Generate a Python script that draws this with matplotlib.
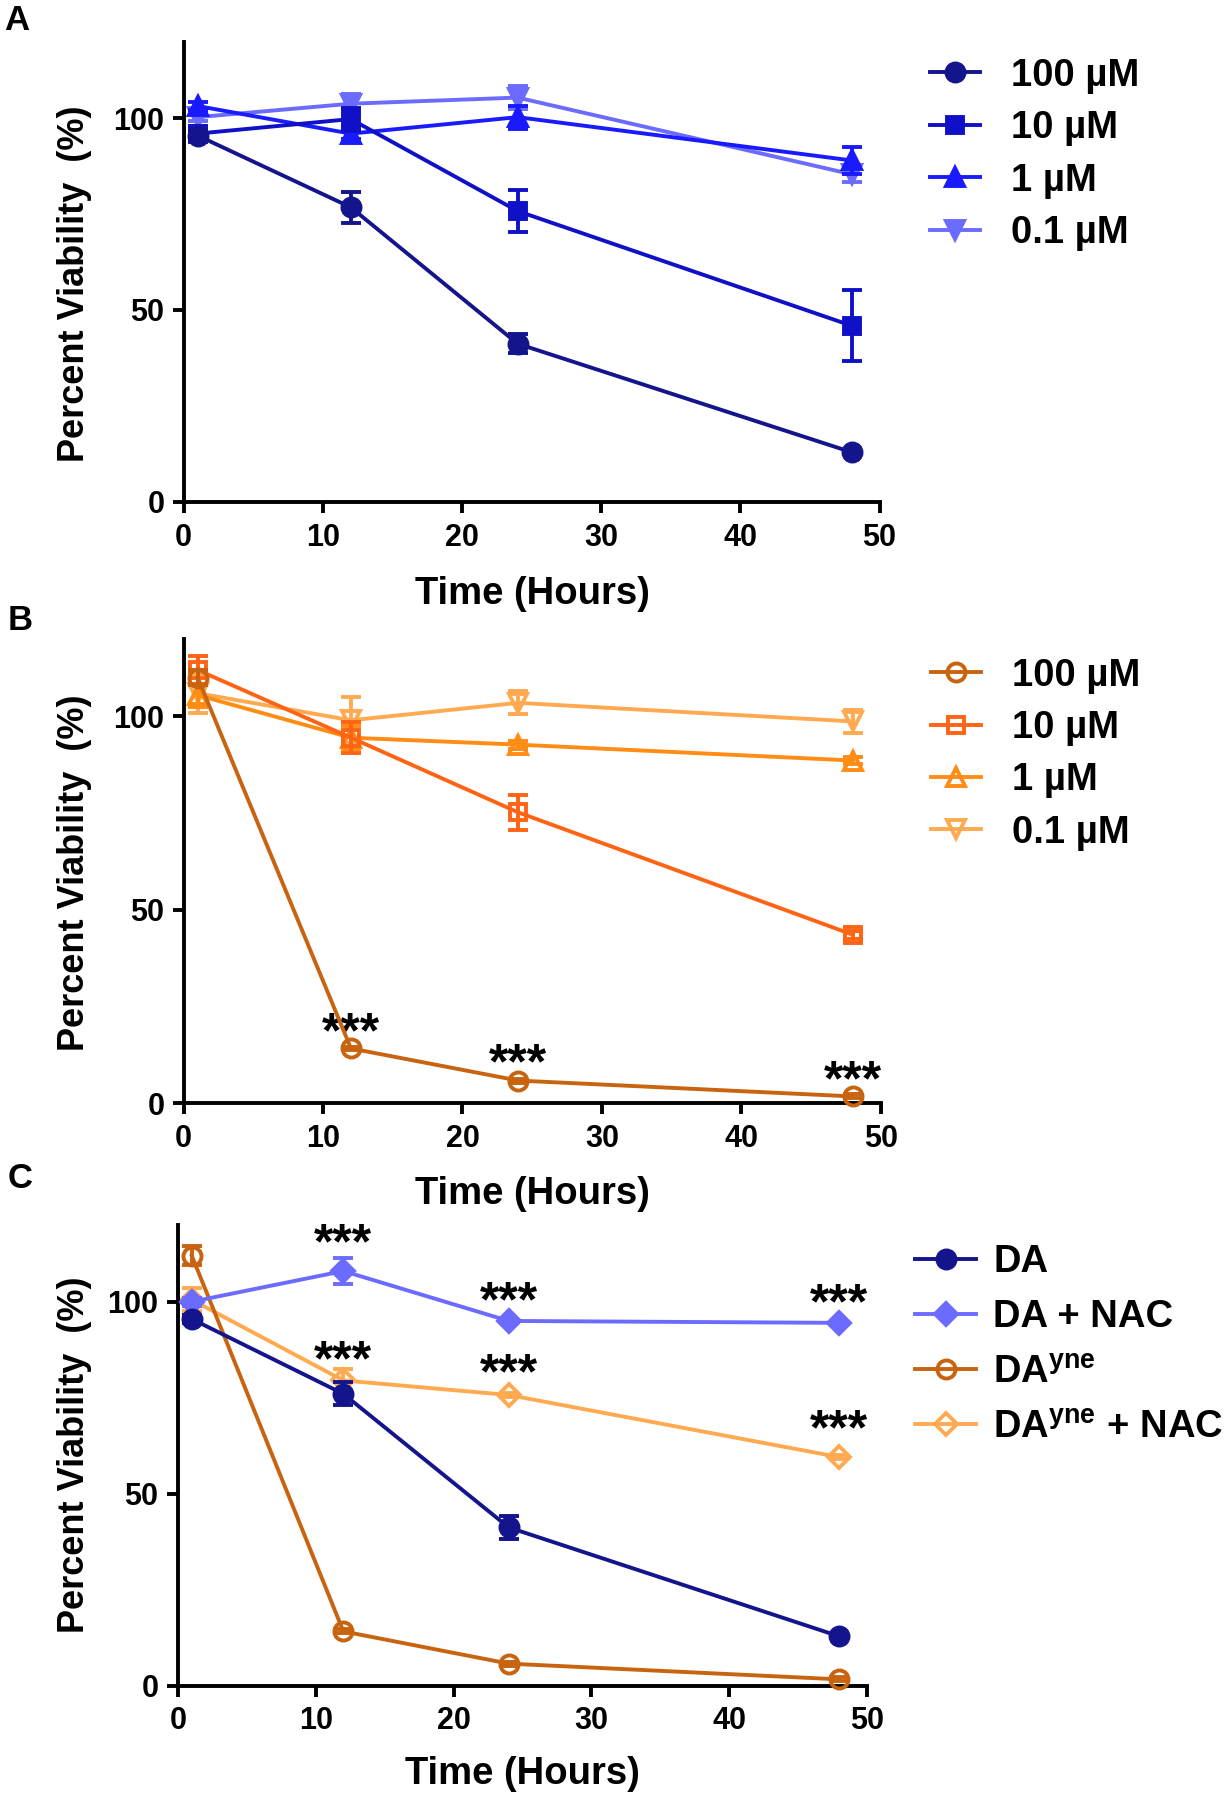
import matplotlib
matplotlib.use('Agg')
import matplotlib.pyplot as plt
from matplotlib.transforms import offset_copy

plt.rcParams['font.family'] = ['Liberation Sans', 'DejaVu Sans']
plt.rcParams['font.weight'] = 'bold'
plt.rcParams['mathtext.fontset'] = 'custom'
plt.rcParams['mathtext.rm'] = 'Liberation Sans:bold'
plt.rcParams['mathtext.default'] = 'rm'

# ---------------- data ----------------
time = [1, 12, 24, 48]

a_labels = ['100 µM', '10 µM', '1 µM', '0.1 µM']
a_100 = [95.5, 76.8, 41.2, 12.9]
a_100_err = [1.5, 4.0, 2.5, 0.5]
a_10 = [96.0, 99.8, 75.8, 45.9]
a_10_err = [2.0, 3.0, 5.5, 9.2]
a_1 = [103.2, 96.0, 100.3, 89.0]
a_1_err = [1.0, 1.5, 3.0, 3.5]
a_01 = [100.3, 103.8, 105.4, 85.4]
a_01_err = [1.0, 2.5, 3.0, 2.0]

b_labels = ['100 µM', '10 µM', '1 µM', '0.1 µM']
b_100 = [110.0, 14.2, 5.9, 1.8]
b_100_err = [2.0, 0.5, 0.5, 0.5]
b_10 = [112.0, 94.5, 75.2, 43.6]
b_10_err = [3.5, 4.0, 4.5, 1.0]
b_1 = [105.5, 94.5, 92.7, 88.6]
b_1_err = [3.0, 3.0, 1.0, 1.0]
b_01 = [106.0, 99.0, 103.5, 98.7]
b_01_err = [5.0, 6.0, 3.0, 3.0]
b_star_x = [12, 24, 48]
b_star_y = [20.8, 12.7, 8.4]

c_labels = ['DA', 'DA + NAC', r'$\mathrm{DA}^{\mathrm{yne}}$', r'$\mathrm{DA}^{\mathrm{yne}}$ + NAC']
c_da = [95.5, 76.0, 41.2, 12.8]
c_da_err = [1.0, 3.0, 3.0, 0.5]
c_danac = [100.0, 108.0, 95.0, 94.5]
c_danac_err = [1.0, 3.5, 0.5, 0.5]
c_dayne = [112.0, 14.1, 5.7, 1.6]
c_dayne_err = [2.5, 0.5, 0.5, 0.5]
c_daynenac = [100.5, 79.5, 75.7, 59.5]
c_daynenac_err = [3.0, 3.0, 0.5, 0.5]
c_star_x = [12, 24, 48, 12, 24, 48]
c_star_y = [117.5, 102.5, 102.0, 87.0, 83.6, 69.0]

# ---------------- styles ----------------
NAVY = '#14148C'
MBLUE = '#1010C8'
BLUE = '#1A1AFF'
LBLUE = '#6B6BFF'
BROWN = '#C8640F'
ORED = '#FF6414'
ORANGE = '#FF8C14'
LORANGE = '#FFAA50'

LW = 2.8

fig = plt.figure(figsize=(12.24, 18), dpi=100)
W, H = 1224.0, 1800.0


def make_ax(left, right, bottom_px, top_px):
    ax = fig.add_axes([left / W, 1 - bottom_px / H, (right - left) / W, (bottom_px - top_px) / H])
    for s in ['top', 'right']:
        ax.spines[s].set_visible(False)
    for s in ['left', 'bottom']:
        ax.spines[s].set_linewidth(LW)
    ax.set_xlim(0, 50)
    ax.set_ylim(0, 120)
    ax.set_xticks([0, 10, 20, 30, 40, 50])
    ax.set_yticks([0, 50, 100])
    ax.tick_params(axis='both', length=8, width=LW, direction='out', labelsize=22)
    ax.tick_params(axis='x', pad=7)
    ax.tick_params(axis='y', pad=6)
    return ax


def series(ax, y, err, color, marker, ms, filled, z):
    c = ax.errorbar(time, y, yerr=err, color=color, marker=marker, ms=ms,
                    mfc=color if filled else 'none', mec=color, mew=LW, lw=LW,
                    elinewidth=LW, capsize=7, capthick=LW,
                    clip_on=False, zorder=z)
    return c[0]


def stars(ax, xs, ys):
    tr = offset_copy(ax.transData, fig=fig, x=0, y=-8, units='points')
    for x, y in zip(xs, ys):
        ax.text(x, y, '***', ha='center', va='center', fontsize=36, fontweight='bold',
                transform=tr)


axA = make_ax(183.7, 879.5, 501.7, 41.6)
hA = [
    series(axA, a_100, a_100_err, NAVY, 'o', 13, True, 5),
    series(axA, a_10, a_10_err, MBLUE, 's', 11.5, True, 4),
    series(axA, a_1, a_1_err, BLUE, '^', 13, True, 3),
    series(axA, a_01, a_01_err, LBLUE, 'v', 13, True, 2),
]

axB = make_ax(183.7, 880.6, 1103.4, 639.0)
hB = [
    series(axB, b_100, b_100_err, BROWN, 'o', 13, False, 5),
    series(axB, b_10, b_10_err, ORED, 's', 12, False, 4),
    series(axB, b_1, b_1_err, ORANGE, '^', 13, False, 3),
    series(axB, b_01, b_01_err, LORANGE, 'v', 13, False, 2),
]
stars(axB, b_star_x, b_star_y)

axC = make_ax(178.0, 866.9, 1685.5, 1225.0)
hC = [
    series(axC, c_da, c_da_err, NAVY, 'o', 13, True, 5),
    series(axC, c_danac, c_danac_err, LBLUE, 'D', 11, True, 4),
    series(axC, c_dayne, c_dayne_err, BROWN, 'o', 13, False, 3),
    series(axC, c_daynenac, c_daynenac_err, LORANGE, 'D', 11, False, 2),
]
stars(axC, c_star_x, c_star_y)

leg_kw = dict(loc='upper left', frameon=False, borderaxespad=0, borderpad=0,
              prop={'size': 27.5, 'weight': 'bold'})
axA.legend(hA, a_labels, bbox_to_anchor=(1.073, 0.965), handlelength=1.3,
           labelspacing=0.43, handletextpad=0.8, **leg_kw)
axB.legend(hB, b_labels, bbox_to_anchor=(1.073, 0.96), handlelength=1.3,
           labelspacing=0.43, handletextpad=0.8, **leg_kw)
axC.legend(hC, c_labels, bbox_to_anchor=(1.07, 0.958), handlelength=1.6,
           labelspacing=0.5, handletextpad=0.45, **leg_kw)

# axis labels
for yc in [284, 873, 1455]:
    fig.text(75 / W, 1 - yc / H, 'Percent Viability  (%)', rotation=90, ha='center', va='center',
             fontsize=26, fontweight='bold')
for (xc, yc) in [(532, 594), (532, 1194), (522, 1774)]:
    fig.text(xc / W, 1 - yc / H, 'Time (Hours)', ha='center', va='center',
             fontsize=27.5, fontweight='bold')

for (t, xc, yc) in [('A', 17, 21), ('B', 20, 620), ('C', 20, 1179)]:
    fig.text(xc / W, 1 - yc / H, t, ha='center', va='center', fontsize=25, fontweight='bold')

fig.savefig('out.png', dpi=100)
